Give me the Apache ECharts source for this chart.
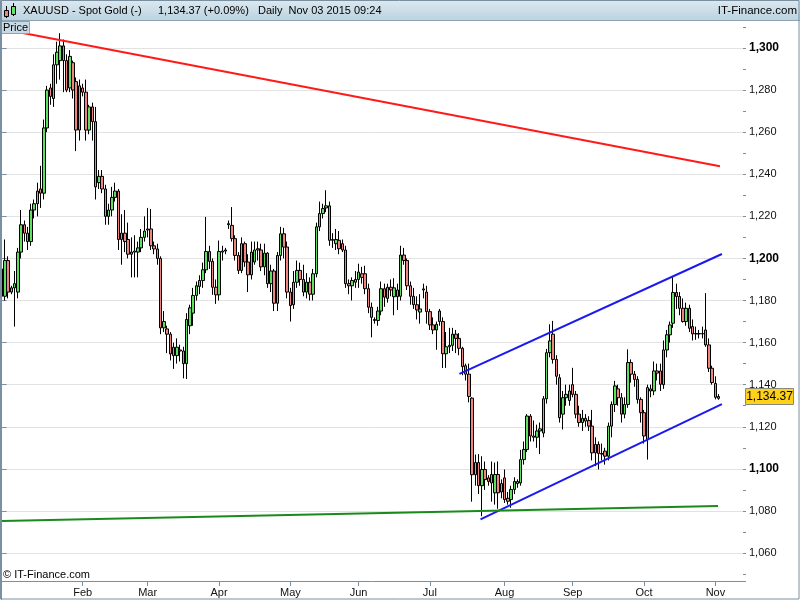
<!DOCTYPE html>
<html><head><meta charset="utf-8">
<script src="https://cdn.jsdelivr.net/npm/echarts@6/dist/echarts.min.js"></script>
<style>html,body{margin:0;padding:0;background:#fff}#c{width:800px;height:600px}</style>
</head><body><div id="c"></div>
<script>
// ---------- DATA ----------
const startDate = '2014-12-29';   // first weekday category
const categoryCount = 229;        // weekday slots shown on the axis (incl. empty future slots)
const monthNames = ['Jan','Feb','Mar','Apr','May','Jun','Jul','Aug','Sep','Oct','Nov','Dec'];

const opens = [1195,1182,1199,1184,1186,1184,1203,1216,1212,1208,
1223,1226,1233,1231,1262,1281,1276,1292,1294,1301,
1294,1281,1293,1284,1261,1281,1279,1261,1272,1265,
1236,1239,1233,1220,1223,1229,1232,1212,1212,1209,
1202,1203,1203,1205,1210,1214,1214,1206,1204.5,1200,
1167,1166.5,1164,1157.8,1153.8,1156.5,1156,1150,1168,1174,
1182.4,1186.7,1189.5,1194.6,1203.3,1198.6,1186.3,1182.7,1203,1203.5,
1216,1215.7,1209.4,1201.4,1194.3,1207,1198.3,1192.2,1198.3,1204.6,
1204,1196,1202.5,1188,1194,1178.7,1201.4,1211.7,1205.4,1184,
1178,1188.7,1194.3,1190,1184,1188.7,1183,1192.7,1215,1221.3,
1224,1225,1209,1207,1208.6,1207,1204,1188,1187,1188.7,
1190,1192.7,1192.7,1185.6,1176.8,1171,1170.5,1175,1185.6,1181,
1186.3,1181.8,1185,1182,1201.6,1199,1187,1182,1178,1174.5,
1185,1184,1174.7,1168.4,1166,1175,1170,1154.7,1158,1158.7,
1164,1162,1157.3,1149,1145,1133.6,1097.2,1103,1092,1099.7,
1095.7,1097.3,1088.6,1097.3,1093,1095.7,1086,1085.4,1090.2,1094,
1093.3,1104.4,1109.2,1125,1115.6,1115,1118,1117,1133.3,1155.2,
1164,1152,1143.3,1126,1133.8,1132.5,1140,1135.4,1126,1122,
1124,1123,1120.3,1111.6,1111.6,1107,1108.4,1106,1120.3,1130.6,
1138,1133.8,1126,1130.6,1150.5,1145,1142.5,1133,1126.7,1114,
1137,1137,1146.5,1146.5,1140,1156.5,1163.7,1169.2,1183.8,1181.9,
1176.3,1170,1176.3,1167.6,1164.1,1164.1,1164.3,1166,1158.9,1147.8,
1140.6,1133.5];

const highs = [1197,1209,1201,1187,1194,1205,1223,1218,1215,1226,
1228,1236,1244,1266,1282,1283,1297,1303,1307,1304,
1297,1299,1294,1286,1285,1283,1285,1273,1274,1272,
1242,1242,1235,1226,1234,1236,1233,1221,1223,1217,
1210,1211,1208,1214,1220,1224,1223.5,1208,1207,1201,
1175,1168,1165,1160,1162,1159,1158,1174,1178,1186,
1189,1192,1198,1219.7,1206,1200,1190,1208.5,1206,1205,
1218,1224.4,1211,1203,1210,1208,1202,1208,1208,1208,
1207,1207,1203,1197,1195,1203,1215,1214.5,1208,1186,
1194,1199,1198,1197,1193,1191,1195,1217,1227,1226,
1232.4,1227,1212,1214,1213,1209,1206,1190,1191,1194,
1197.5,1196,1196.5,1188,1179,1172,1177,1189,1188,1188,
1190,1190.6,1188,1206,1205,1200,1189,1186,1182,1183,
1188,1187,1176,1172,1170,1176,1172,1165,1167,1167,
1166,1164.5,1158,1150,1150,1134,1106.8,1107,1106,1103.5,
1097,1103.5,1103,1103.5,1095,1099.7,1089,1092,1096,1095,
1109,1113,1126,1126,1123,1121,1122,1134.6,1157,1168.7,
1170.3,1154,1145,1137,1140,1140,1148,1137,1130,1128,
1126,1125,1128,1115,1113,1112,1110,1122,1132,1141.8,
1140,1136,1134,1156.8,1152,1146.5,1144,1134,1128,1140,
1140,1151,1150,1150,1161,1166,1170,1191.4,1188,1184,
1181,1179,1178,1171,1167.6,1166,1167.6,1183.5,1162,1149,
1144,1135.5];

const lows = [1178,1180,1181,1183,1167.6,1181,1200,1208,1204,1206,
1219,1220,1224,1228,1260,1273,1272,1283,1285,1279,
1279,1279,1276,1251,1256,1277,1256,1259,1256,1228,
1233,1231,1216,1216,1220,1227,1204,1197,1203,1200,
1191,1191,1191,1203,1208,1210,1204,1202,1197,1164,
1165,1155,1151.5,1147.5,1150,1151,1143,1142.7,1164,1168,
1180,1183,1186,1193,1195,1182.7,1178.4,1180,1199,1202,
1214,1208,1199,1192.6,1193,1196,1184,1190,1197,1199,
1194,1192,1186,1184,1175,1175,1199,1200,1181,1170,
1176,1186,1187,1182,1181,1180,1180,1191,1213,1219,
1222,1206,1205,1204,1202,1203,1186,1183,1180,1186,
1186,1188,1183,1174,1162.5,1169,1168,1173,1177,1179,
1182,1173,1175.5,1180,1197,1185,1178,1176,1171,1169,
1181,1169,1166,1164,1156.6,1168,1147.9,1148,1155,1156,
1155,1154,1144.5,1142,1131.6,1084.4,1092,1088,1077.5,1090,
1092,1084.4,1083,1081,1086,1083.8,1083,1081.5,1088,1091,
1092,1102,1108,1113,1113,1110,1107,1115,1131,1153,
1150,1140,1122,1118.7,1130,1130,1134,1124,1120,1118,
1120,1118,1104,1101.3,1099.7,1104,1102,1104,1115,1127,
1130,1122,1124,1129,1141,1139,1131,1122,1112,1104.4,
1134,1135,1142,1137,1138,1153,1160,1167,1176,1173,
1169.5,1168,1165,1161,1161.3,1162,1162,1158,1146,1140,
1133,1132.8];

const closes = [1182,1199,1184,1186,1188,1203,1216,1212,1208,1223,
1226,1232,1231,1262,1280,1277,1292,1298,1301,1294,
1280,1296,1280,1261,1282,1279,1261,1272,1265,1234,
1239,1233,1220,1223,1229,1232,1209,1209,1208,1202,
1203,1203.5,1205,1210,1213,1213.5,1206,1204.5,1200,1167,
1170,1164,1154.6,1153.8,1157.8,1156,1150,1171,1176.5,1182.4,
1187,1189.5,1194.6,1203.3,1198.6,1186.3,1182.7,1203.3,1203.5,1204,
1216.5,1209.4,1201.4,1194.3,1207,1198.3,1192.2,1203,1204,1204,
1196,1202.5,1188,1194,1178.7,1201.4,1211.7,1205.4,1184,1177.6,
1188.7,1194.3,1190,1184,1188.7,1183,1192.7,1215,1221.3,1223.7,
1225,1208.6,1208.6,1209,1204.6,1204,1188,1187,1189.5,1190,
1193.5,1191,1185.6,1176.8,1172,1170.5,1175,1185.6,1181.6,1186.3,
1185,1186,1181.8,1201.6,1199,1187,1182,1178,1175.5,1176,
1185.5,1174.7,1168.4,1166,1168.7,1170,1154.7,1158,1158.7,1164,
1162,1157.3,1148.6,1145,1134.4,1097.2,1103,1092,1099.7,1094.9,
1094,1093.3,1097.3,1088.6,1089,1085.4,1084.6,1090.2,1094,1093,
1104.4,1109.2,1125.1,1115.6,1115,1118,1119,1133.3,1155.2,1160.8,
1152,1144,1124.3,1133.8,1135.4,1137,1135.4,1126,1122,1124,
1122.7,1120.3,1107.6,1107.6,1107.3,1107.3,1106,1120.3,1130.6,1139.4,
1133.8,1126,1130.6,1150.5,1145,1142.5,1133,1126.7,1115.6,1138.6,
1138,1146.5,1145.5,1140.2,1156.5,1163.7,1168.4,1183.8,1181.9,1176.3,
1170,1176.3,1166.8,1164.1,1164.3,1164.3,1164.1,1158.9,1147.8,1141,
1134,1134.37];

// Drawn trend lines: [slot index, price]
const redTrend   = [[0.1, 1309.0], [221.4, 1243.8]];
const blueUpper  = [[141.1, 1145.1], [222.0, 1202.1]];
const blueLower  = [[147.6, 1076.0], [222.0, 1130.8]];
const greenTrend = [[0.1, 1075.2], [220.8, 1082.3]];

const yMin = 1046.7, yMax = 1313.3;
const lastQuote = '1,134.37';

// ---------- BUILD ----------
function weekdays(start, n) {
  const out = []; const d = new Date(start + 'T00:00:00Z');
  while (out.length < n) { const wd = d.getUTCDay(); if (wd !== 0 && wd !== 6) out.push(d.toISOString().slice(0, 10)); d.setUTCDate(d.getUTCDate() + 1); }
  return out;
}
const dates = weekdays(startDate, categoryCount);
function isMonthStart(i) {
  if (i === 0) return false;
  const m = dates[i].slice(5, 7);
  return m !== dates[i - 1].slice(5, 7) && m !== '01';
}
const candleData = opens.map((o, i) => [o, closes[i], lows[i], highs[i]]);
function fmt(v) { const r = Math.round(v); return String(r).replace(/\B(?=(\d{3})+(?!\d))/g, ','); }

const FONT = '"Liberation Sans", Arial, sans-serif';
const axisCol = '#7a8f9f';
const chart = echarts.init(document.getElementById('c'), null, {renderer: 'canvas'});
const lineSeries = (pts, color) => ({
  type: 'line', xAxisIndex: 1, yAxisIndex: 0, data: pts, symbol: 'none', silent: true,
  lineStyle: {color: color, width: 2}, z: 5, animation: false
});

const baseGraphic = [
  {type: 'rect', z: 100, shape: {x: 0, y: 0, width: 800, height: 20},
    style: {fill: new echarts.graphic.LinearGradient(0, 0, 0, 1, [{offset: 0, color: '#dce9f0'}, {offset: 1, color: '#bcd3e0'}])}},
  {type: 'line', z: 101, shape: {x1: 0, y1: 20.5, x2: 800, y2: 20.5}, style: {stroke: '#8ea3b2', lineWidth: 1}},
  {type: 'line', z: 102, shape: {x1: 6.5, y1: 6, x2: 6.5, y2: 18}, style: {stroke: '#000', lineWidth: 1}},
  {type: 'rect', z: 103, shape: {x: 4.5, y: 10.5, width: 4, height: 6}, style: {fill: '#f3857f', stroke: '#000', lineWidth: 1}},
  {type: 'line', z: 102, shape: {x1: 13.5, y1: 3, x2: 13.5, y2: 16}, style: {stroke: '#000', lineWidth: 1}},
  {type: 'rect', z: 103, shape: {x: 11.5, y: 6.5, width: 4, height: 8}, style: {fill: '#66e566', stroke: '#000', lineWidth: 1}},
  {type: 'text', z: 103, x: 23, y: 11, style: {text: 'XAUUSD - Spot Gold (-)', font: '11px ' + FONT, fill: '#000', verticalAlign: 'middle'}},
  {type: 'text', z: 103, x: 158, y: 11, style: {text: '1,134.37 (+0.09%)', font: '11px ' + FONT, fill: '#000', verticalAlign: 'middle'}},
  {type: 'text', z: 103, x: 258, y: 11, style: {text: 'Daily  Nov 03 2015 09:24', font: '11px ' + FONT, fill: '#000', verticalAlign: 'middle'}},
  {type: 'text', z: 103, x: 797, y: 11, style: {text: 'IT-Finance.com', font: '11.5px ' + FONT, fill: '#000', align: 'right', verticalAlign: 'middle'}},
  {type: 'rect', z: 100, shape: {x: 0.5, y: 21.5, width: 29, height: 12}, style: {fill: '#c6d9e5', stroke: '#8ea3b2', lineWidth: 1}},
  {type: 'text', z: 101, x: 3, y: 28, style: {text: 'Price', font: '11px ' + FONT, fill: '#000', verticalAlign: 'middle'}},
  {type: 'text', z: 100, x: 3, y: 575, style: {text: '\u00a9 IT-Finance.com', font: '11px ' + FONT, fill: '#000', verticalAlign: 'middle'}},
  {type: 'rect', z: 110, shape: {x: 0.5, y: 0.5, width: 798.5, height: 598.5}, style: {fill: 'none', stroke: '#7a8f9f', lineWidth: 1}},
  {type: 'line', z: 110, shape: {x1: 1.5, y1: 0, x2: 1.5, y2: 600}, style: {stroke: '#7a8f9f', lineWidth: 1}}
];

chart.setOption({
  animation: false,
  backgroundColor: '#ffffff',
  textStyle: {fontFamily: FONT},
  grid: {left: -2, right: 57, top: 20, bottom: 19, containLabel: false},
  xAxis: [{
    type: 'category', data: dates, boundaryGap: true,
    axisLine: {show: true, lineStyle: {color: axisCol, width: 1}},
    axisTick: {show: true, interval: (i) => isMonthStart(i), alignWithLabel: true, length: 5, lineStyle: {color: axisCol}},
    axisLabel: {interval: (i) => isMonthStart(i), formatter: (v) => monthNames[+v.slice(5, 7) - 1], fontSize: 11, color: '#111', margin: 6, fontFamily: FONT},
    splitLine: {show: false}
  }, {
    type: 'value', min: -0.5, max: categoryCount - 0.5, show: false
  }],
  yAxis: [{
    type: 'value', position: 'right', min: yMin, max: yMax, splitNumber: 13,
    axisLine: {show: true, lineStyle: {color: axisCol}},
    axisTick: {show: true, length: 5, lineStyle: {color: axisCol}},
    axisLabel: {
      showMinLabel: false, showMaxLabel: false, margin: 6,
      formatter: (v) => (Math.round(v) % 100 === 0 ? '{b|' + fmt(v) + '}' : '{n|' + fmt(v) + '}'),
      rich: {b: {fontSize: 12, fontWeight: 'bold', color: '#000', fontFamily: FONT}, n: {fontSize: 11, color: '#111', fontFamily: FONT}}
    },
    splitLine: {show: true, lineStyle: {color: '#e2e2e2', width: 1}}
  }, {
    type: 'value', position: 'right', min: yMin, max: yMax, splitNumber: 26,
    axisLine: {show: false}, axisLabel: {show: false}, splitLine: {show: false},
    axisTick: {show: true, length: 3, lineStyle: {color: axisCol}}
  }],
  series: [{
    type: 'candlestick', xAxisIndex: 0, yAxisIndex: 0, data: candleData, barWidth: 3,
    itemStyle: {color: '#5fe05f', color0: '#f08480', borderColor: '#000', borderColor0: '#000', borderColorDoji: '#000', borderWidth: 1},
    z: 3
  },
    lineSeries(redTrend, '#ff1a1a'),
    lineSeries(blueUpper, '#1a1aee'),
    lineSeries(blueLower, '#1a1aee'),
    lineSeries(greenTrend, '#1a8a1a')
  ],
  graphic: baseGraphic
});

// last-price tag placed through the y scale
const lastClose = closes[closes.length - 1];
const py = chart.convertToPixel({yAxisIndex: 0}, lastClose);
chart.setOption({
  graphic: baseGraphic.concat([
    {type: 'rect', z: 120, shape: {x: 745.5, y: Math.round(py) - 8.5, width: 48, height: 16}, style: {fill: '#ffd21a', stroke: '#8a8a7a', lineWidth: 1}},
    {type: 'text', z: 121, x: 769.5, y: Math.round(py), style: {text: lastQuote, font: '12px ' + FONT, fill: '#000', align: 'center', verticalAlign: 'middle'}}
  ])
});
</script></body></html>
